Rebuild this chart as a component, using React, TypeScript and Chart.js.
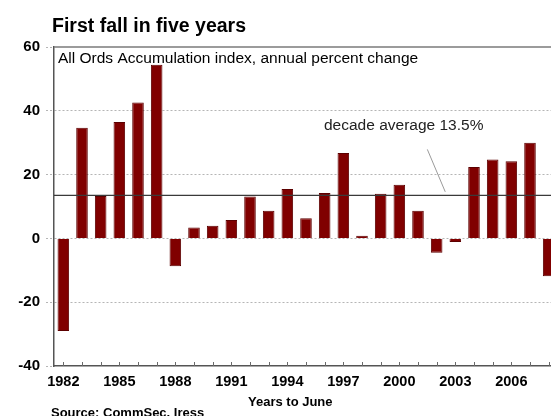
import React, { useEffect, useRef } from "react";
import { Chart, registerables } from "chart.js";

Chart.register(...registerables);

const years: string[] = [
  "1982", "1983", "1984", "1985", "1986", "1987", "1988", "1989", "1990",
  "1991", "1992", "1993", "1994", "1995", "1996", "1997", "1998", "1999",
  "2000", "2001", "2002", "2003", "2004", "2005", "2006", "2007", "2008",
];

const annualChange: number[] = [
  -29.0, 34.7, 13.3, 36.5, 42.6, 54.4, -8.7, 3.4, 4.0, 5.8, 13.1, 8.7, 15.5,
  6.3, 14.2, 26.8, 0.8, 14.0, 16.8, 8.7, -4.5, -1.1, 22.4, 24.7, 24.2, 30.0,
  -11.9,
];

const decadeAverage = 13.5;
const yTicks: number[] = [-40, -20, 0, 20, 40, 60];

const titleText = "First fall in five years";
const seriesLabel = "All Ords Accumulation index, annual percent change";
const averageLabel = "decade average 13.5%";
const xTitle = "Years to June";
const sourceText = "Source: CommSec, Iress";

const FONT = '"Liberation Sans", Arial, sans-serif';

const decorPlugin = {
  id: "decor",
  afterDatasetsDraw(chart: any) {
    const { ctx, chartArea, scales } = chart;
    const x = scales.x;
    const y = scales.y;
    ctx.save();

    // top frame line
    ctx.strokeStyle = "#7a7a7a";
    ctx.lineWidth = 1.5;
    ctx.beginPath();
    ctx.moveTo(chartArea.left, chartArea.top);
    ctx.lineTo(chartArea.right, chartArea.top);
    ctx.stroke();

    // decade average line
    const ya = y.getPixelForValue(decadeAverage);
    ctx.strokeStyle = "#3a3a3a";
    ctx.lineWidth = 1.3;
    ctx.beginPath();
    ctx.moveTo(chartArea.left, ya);
    ctx.lineTo(chartArea.right, ya);
    ctx.stroke();

    // pointer line
    ctx.strokeStyle = "#9a9a9a";
    ctx.lineWidth = 1;
    ctx.beginPath();
    ctx.moveTo(x.getPixelForValue(19.5), y.getPixelForValue(27.9));
    ctx.lineTo(x.getPixelForValue(20.46), y.getPixelForValue(14.6));
    ctx.stroke();

    // inner ticks on bottom axis
    ctx.strokeStyle = "#6a6a6a";
    ctx.lineWidth = 1;
    for (let i = 0; i < years.length; i++) {
      const px = Math.round(x.getPixelForValue(i)) + 0.5;
      ctx.beginPath();
      ctx.moveTo(px, chartArea.bottom);
      ctx.lineTo(px, chartArea.bottom - 4);
      ctx.stroke();
    }

    // texts
    ctx.fillStyle = "#000";
    ctx.textBaseline = "alphabetic";
    ctx.textAlign = "left";
    ctx.font = `15.5px ${FONT}`;
    ctx.fillText(seriesLabel, 58, 63);
    ctx.fillStyle = "#222";
    ctx.fillText(averageLabel, 324, 130);

    ctx.fillStyle = "#000";
    ctx.font = `bold 19.5px ${FONT}`;
    ctx.fillText(titleText, 52, 31.5);

    ctx.font = `bold 13px ${FONT}`;
    ctx.fillText(xTitle, 248, 406);
    ctx.fillText(sourceText, 51, 417);

    ctx.restore();
  },
};

export default function App() {
  const canvasRef = useRef<HTMLCanvasElement | null>(null);

  useEffect(() => {
    const canvas = canvasRef.current;
    if (!canvas) return;
    const chart = new Chart(canvas, {
      type: "bar",
      data: {
        labels: years,
        datasets: [
          {
            label: seriesLabel,
            data: annualChange,
            backgroundColor: "#800000",
            borderColor: "#5c0000",
            borderWidth: 1,
            categoryPercentage: 1,
            barPercentage: 0.62,
          },
        ],
      },
      options: {
        animation: false,
        responsive: false,
        maintainAspectRatio: false,
        devicePixelRatio: 1,
        layout: { padding: { top: 47, right: 8, left: 0, bottom: 0 } },
        plugins: {
          legend: { display: false },
          title: { display: false },
          tooltip: { enabled: false },
        },
        scales: {
          x: {
            offset: true,
            grid: { display: false, drawTicks: false },
            border: { display: true, color: "#555", width: 1.5 },
            ticks: {
              autoSkip: false,
              maxRotation: 0,
              minRotation: 0,
              padding: 7,
              color: "#000",
              font: { family: FONT, size: 14.5, weight: "bold" },
              callback: (_v: any, i: number) => (i % 3 === 0 ? years[i] : ""),
            },
            afterFit: (s: any) => {
              s.height = 50;
            },
          },
          y: {
            min: -40,
            max: 60,
            afterBuildTicks: (s: any) => {
              s.ticks = yTicks.map((v) => ({ value: v }));
            },
            grid: {
              color: (c: any) =>
                c.tick && (c.tick.value === -40 || c.tick.value === 60)
                  ? "rgba(0,0,0,0)"
                  : "#b5b5b5",
              lineWidth: 1,
              drawTicks: true,
              tickLength: 8,
              tickColor: "#b5b5b5",
              tickBorderDash: [2, 2],
            },
            border: { display: true, color: "#555", width: 1.5, dash: [2, 2] },
            ticks: {
              padding: 6,
              color: "#000",
              font: { family: FONT, size: 15, weight: "bold" },
            },
            afterFit: (s: any) => {
              s.width = 54;
            },
          },
        },
      },
      plugins: [decorPlugin],
    });
    return () => chart.destroy();
  }, []);

  return (
    <div
      style={{
        position: "fixed",
        left: 0,
        top: 0,
        width: 551,
        height: 416,
        overflow: "hidden",
        background: "#fff",
      }}
    >
      <canvas
        ref={canvasRef}
        width={566}
        height={416}
        style={{ display: "block", width: 566, height: 416 }}
      />
    </div>
  );
}
